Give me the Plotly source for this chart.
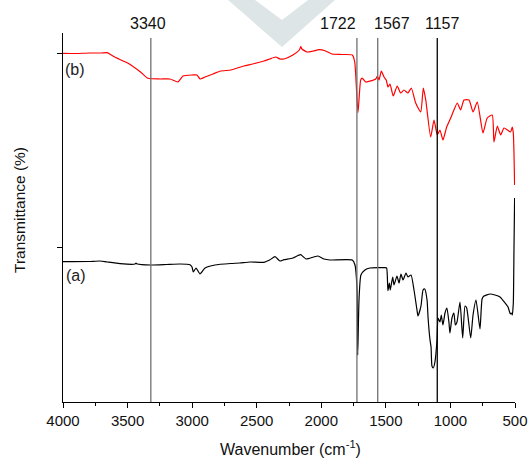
import plotly.graph_objects as go

# ---- data (wavenumber in cm^-1, transmittance in arbitrary offset units) ----
wn_b = [4000, 3900, 3800, 3700, 3659, 3600, 3500, 3400, 3342, 3250,
        3171, 3110, 3071, 3000, 2962, 2939, 2900, 2838, 2780, 2700,
        2600, 2530, 2444, 2400, 2353, 2320, 2289, 2220, 2170, 2159,
        2150, 2110, 2060, 2018, 1966, 1917, 1840, 1760, 1741, 1716,
        1695, 1683, 1656, 1578, 1566, 1553, 1535, 1514, 1497, 1484,
        1468, 1443, 1412, 1385, 1360, 1329, 1303, 1269, 1230, 1210,
        1191, 1153, 1127, 1102, 1081, 1058, 1029, 998, 973, 947,
        921, 895, 856, 825, 792, 748, 715, 676, 663, 637,
        611, 585, 534, 521, 513, 508, 503]
t_b = [348.7, 348.5, 349, 349, 349.3, 345, 339, 330, 323.7, 323,
       323, 320, 326, 327, 327, 323, 325, 328, 331, 332,
       336, 338, 341, 343, 345, 343, 343, 347, 352, 355.3,
       353, 350, 351, 352.3, 351, 348, 347.5, 347, 340, 289.3,
       322, 324, 320, 323, 326, 322, 331, 325, 322, 315,
       318, 306, 316, 309, 312, 309, 314, 299, 290, 314,
       302, 265, 282, 267, 272, 262, 275, 284, 292, 299,
       292, 302, 302, 290, 300, 269, 284, 287, 260, 276,
       267, 274, 270, 275, 269, 250, 217]

wn_a = [4000, 3800, 3713, 3659, 3559, 3442, 3435, 3425, 3319, 3200,
        3094, 3017, 3001, 2991, 2970, 2939, 2900, 2823, 2700, 2630,
        2552, 2444, 2400, 2358, 2320, 2289, 2220, 2160, 2118, 2060,
        2025, 1979, 1933, 1760, 1739, 1723, 1718, 1708, 1693, 1662,
        1623, 1507, 1494, 1484, 1473, 1466, 1447, 1437, 1414, 1398,
        1383, 1367, 1344, 1329, 1305, 1282, 1259, 1251, 1228, 1212,
        1199, 1181, 1173, 1158, 1150, 1143, 1133, 1120, 1104, 1096,
        1081, 1071, 1058, 1042, 1027, 1011, 1004, 988, 973, 962,
        949, 926, 905, 887, 874, 843, 825, 802, 771, 755,
        740, 693, 655, 616, 577, 554, 536, 528, 521, 513,
        508, 503]
t_a = [140.3, 140.5, 141, 140, 138.3, 138, 139, 138, 137, 137.5,
       138, 137.3, 135, 130, 134, 128, 134, 137, 138.5, 139,
       140, 139.7, 142, 145.3, 141, 142.3, 144, 147.3, 143, 145,
       146, 143, 142, 142, 137, 112, 47, 102, 127, 132,
       134, 134.3, 134, 111.3, 119, 112, 125, 117, 126, 119,
       128, 122, 129, 125, 127, 112, 92, 86, 96, 112,
       113, 102, 84, 62, 55, 36, 34, 40, 62, 84,
       80, 87, 77, 89, 94, 79, 69, 84, 89, 77,
       80, 100, 64, 96, 94, 64, 87, 102, 73, 103,
       106, 108, 107, 105, 99, 95, 88, 89, 87, 99,
       152, 204]

peak_labels = ["3340", "1722", "1567", "1157"]
peak_label_wn = [3342, 1871, 1452, 1058]
peak_line_wn = [3320, 1724, 1563, 1102]
peak_line_colors = ["#707070", "#707070", "#707070", "#000000"]

x_ticks = [4000, 3500, 3000, 2500, 2000, 1500, 1000, 500]
y_ticks = [155, 349]

# ---- figure geometry ----
W, H = 528, 459
ML, MR, MT, MB = 63, 13, 33, 57
PW, PH = W - ML - MR, H - MT - MB


def px(x, y):
    """pixel position -> paper coordinates"""
    return (x - ML) / PW, (H - MB - y) / PH


FONT = "Liberation Sans, Arial, sans-serif"

fig = go.Figure()

# watermark (decorative)
wm = [px(228, 0), px(282, 47), px(335, 0), px(308, 0), px(282, 20), px(255, 0)]
path = "M " + " L ".join(f"{a},{b}" for a, b in wm) + " Z"
fig.add_shape(type="path", path=path, xref="paper", yref="paper",
              fillcolor="rgb(222,229,231)", line=dict(width=0), layer="below")

fig.add_trace(go.Scatter(x=wn_b, y=t_b, mode="lines",
                         line=dict(color="#ff0000", width=1.2, shape="spline", smoothing=0.5),
                         showlegend=False))
fig.add_trace(go.Scatter(x=wn_a, y=t_a, mode="lines",
                         line=dict(color="#000000", width=1.2, shape="spline", smoothing=0.5),
                         showlegend=False))

for lab, lx, wx, col in zip(peak_labels, peak_label_wn, peak_line_wn, peak_line_colors):
    fig.add_shape(type="line", xref="x", yref="y", x0=wx, x1=wx, y0=0, y1=364,
                  line=dict(color=col, width=1.3))
    fig.add_annotation(x=lx, y=px(0, 23)[1], xref="x", yref="paper", text=lab,
                       showarrow=False, font=dict(size=16, color="#111", family=FONT),
                       xanchor="center", yanchor="middle")

fig.add_annotation(x=3907, y=333, xref="x", yref="y", text="(b)", showarrow=False,
                   xanchor="center", yanchor="middle",
                   font=dict(size=16, color="#222", family=FONT))
fig.add_annotation(x=3899, y=127, xref="x", yref="y", text="(a)", showarrow=False,
                   xanchor="center", yanchor="middle",
                   font=dict(size=16, color="#222", family=FONT))

# axis titles
tx, ty = px(20, 210)
fig.add_annotation(x=tx, y=ty, xref="paper", yref="paper", text="Transmittance (%)",
                   textangle=-90, showarrow=False, xanchor="center", yanchor="middle",
                   font=dict(size=15.5, color="#111", family=FONT))
tx, ty = px(290, 448)
fig.add_annotation(x=tx, y=ty, xref="paper", yref="paper",
                   text="Wavenumber (cm<sup>-1</sup>)", showarrow=False,
                   xanchor="center", yanchor="middle",
                   font=dict(size=16, color="#111", family=FONT))

fig.update_layout(
    width=W, height=H, autosize=False,
    margin=dict(l=ML, r=MR, t=MT, b=MB, pad=0, autoexpand=False),
    paper_bgcolor="white", plot_bgcolor="white",
    font=dict(family=FONT, color="#111"),
    xaxis=dict(range=[4000, 500], tickvals=x_ticks, ticks="outside", ticklen=5,
               tickwidth=1, tickcolor="black", showline=True, linecolor="black",
               linewidth=1.2, showgrid=False, zeroline=False, automargin=False,
               tickfont=dict(size=15, family=FONT, color="#111"),
               minor=dict(dtick=250, ticks="outside", ticklen=3, tickcolor="black",
                          showgrid=False)),
    yaxis=dict(range=[0, 369], tickvals=y_ticks, showticklabels=False, ticks="outside",
               ticklen=5, tickcolor="black", showline=True, linecolor="black",
               linewidth=1.2, showgrid=False, zeroline=False, automargin=False),
)

fig.write_html("out.html")
